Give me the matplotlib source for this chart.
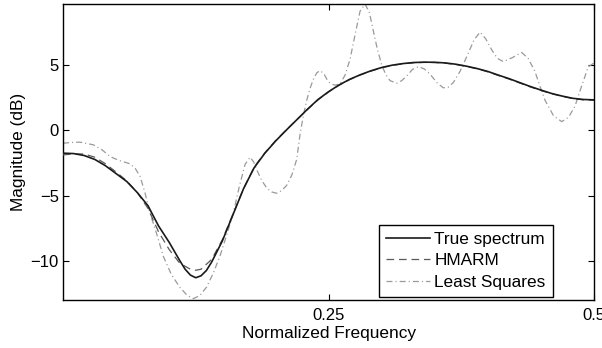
import matplotlib
matplotlib.use("Agg")
import matplotlib.pyplot as plt

plt.rcParams['font.family'] = ['Liberation Sans', 'DejaVu Sans']
plt.rcParams['lines.scale_dashes'] = False

# True spectrum
true_x = [0.000, 0.010, 0.020, 0.030, 0.040, 0.050, 0.060, 0.070, 0.080, 0.090,
          0.100, 0.110, 0.115, 0.120, 0.125, 0.130, 0.135, 0.140, 0.145, 0.150,
          0.160, 0.170, 0.180, 0.190, 0.200, 0.210, 0.220, 0.230, 0.240, 0.250,
          0.260, 0.270, 0.280, 0.290, 0.300, 0.310, 0.320, 0.330, 0.340, 0.350,
          0.360, 0.370, 0.380, 0.390, 0.400, 0.410, 0.420, 0.430, 0.440, 0.450,
          0.460, 0.470, 0.480, 0.490, 0.500]
true_y = [-1.74, -1.77, -1.92, -2.22, -2.70, -3.30, -3.90, -4.75, -5.75, -7.30,
          -8.55, -9.95, -10.60, -11.05, -11.25, -11.10, -10.70, -10.05, -9.25, -8.45,
          -6.45, -4.45, -2.85, -1.75, -0.83, 0.00, 0.80, 1.60, 2.35, 2.95,
          3.47, 3.90, 4.25, 4.55, 4.80, 4.98, 5.10, 5.18, 5.21, 5.20,
          5.15, 5.05, 4.90, 4.72, 4.50, 4.22, 3.95, 3.65, 3.35, 3.08,
          2.82, 2.62, 2.45, 2.36, 2.33]

# HMARM estimate
hmarm_x = [0.000, 0.010, 0.020, 0.030, 0.040, 0.050, 0.060, 0.070, 0.080, 0.090,
           0.100, 0.110, 0.120, 0.125, 0.130, 0.140, 0.150, 0.160, 0.170, 0.180,
           0.190, 0.200, 0.210, 0.220, 0.230, 0.240, 0.250, 0.260, 0.270, 0.280,
           0.290, 0.300, 0.310, 0.320, 0.330, 0.340, 0.350, 0.360, 0.370, 0.380,
           0.390, 0.400, 0.410, 0.420, 0.430, 0.440, 0.450, 0.460, 0.470, 0.480,
           0.490, 0.500]
hmarm_y = [-1.87, -1.80, -1.80, -2.05, -2.55, -3.18, -3.85, -4.75, -5.95, -7.75,
           -9.10, -10.15, -10.60, -10.68, -10.60, -9.85, -8.35, -6.40, -4.45, -2.80,
           -1.72, -0.80, 0.02, 0.80, 1.58, 2.32, 2.93, 3.45, 3.88, 4.23,
           4.53, 4.78, 4.96, 5.08, 5.16, 5.19, 5.18, 5.13, 5.03, 4.88,
           4.70, 4.47, 4.19, 3.92, 3.62, 3.32, 3.05, 2.80, 2.60, 2.43,
           2.33, 2.30]

# Least squares estimate
ls_x = [0.000, 0.008, 0.016, 0.0285, 0.037, 0.0443, 0.053, 0.0631, 0.068, 0.0725,
        0.077, 0.0819, 0.0882, 0.0944, 0.102, 0.1102, 0.117, 0.1227, 0.129, 0.1353,
        0.1415, 0.1478, 0.1541, 0.1604, 0.166, 0.1714, 0.1761, 0.1795, 0.1824, 0.187,
        0.1918, 0.1965, 0.2012, 0.2059, 0.2106, 0.2155, 0.2201, 0.2232, 0.2265, 0.2295,
        0.2326, 0.2357, 0.239, 0.242, 0.2455, 0.2485, 0.2514, 0.256, 0.2608, 0.2655,
        0.2702, 0.275, 0.2797, 0.2844, 0.2885, 0.2922, 0.296, 0.3001, 0.304, 0.3079,
        0.3142, 0.319, 0.3236, 0.329, 0.3346, 0.340, 0.3456, 0.352, 0.3581, 0.3628,
        0.3675, 0.3738, 0.3778, 0.3816, 0.387, 0.3927, 0.398, 0.4037, 0.409, 0.4146,
        0.423, 0.4319, 0.438, 0.4444, 0.449, 0.4539, 0.462, 0.4696, 0.476, 0.4821,
        0.488, 0.4946, 0.500]
ls_y = [-0.98, -0.92, -0.90, -1.10, -1.50, -2.00, -2.30, -2.55, -2.90, -3.50,
        -4.70, -6.30, -7.90, -9.60, -11.00, -12.00, -12.60, -12.85, -12.60, -11.95,
        -10.90, -9.60, -8.00, -6.30, -4.30, -2.60, -2.05, -2.40, -3.00, -3.80,
        -4.40, -4.70, -4.80, -4.60, -4.20, -3.40, -2.20, -0.30, 1.20, 2.30,
        3.20, 3.90, 4.40, 4.56, 4.35, 3.90, 3.60, 3.45, 3.55, 4.20,
        5.40, 7.30, 9.10, 9.65, 9.00, 7.60, 6.20, 5.00, 4.25, 3.80,
        3.60, 3.80, 4.15, 4.65, 4.87, 4.70, 4.30, 3.65, 3.25, 3.30,
        3.65, 4.50, 5.20, 5.90, 6.90, 7.50, 7.00, 6.15, 5.50, 5.25,
        5.55, 5.95, 5.50, 4.50, 3.40, 2.30, 1.10, 0.67, 1.00, 1.85,
        3.30, 4.85, 5.15]

x_ticks = [0.25, 0.5]
x_tick_labels = ['0.25', '0.5']
y_ticks = [-10, -5, 0, 5]
y_tick_labels = ['\u221210', '\u22125', '0', '5']

fig = plt.figure(figsize=(6.02, 3.48), dpi=100)
ax = fig.add_axes([63 / 602, 1 - 299.6 / 348, 531 / 602, 295.6 / 348])

ax.plot(true_x, true_y, color='#1a1a1a', lw=1.2, label='True spectrum', zorder=4)
ax.plot(hmarm_x, hmarm_y, color='#5a5a5a', lw=0.9, dashes=(5.5, 3.5), label='HMARM', zorder=3)
ax.plot(ls_x, ls_y, color='#9a9a9a', lw=0.9, dashes=(4.3, 2.2, 0.8, 2.2),
        label='Least Squares', zorder=2)

ax.set_xlim(0, 0.5)
ax.set_ylim(-12.92, 9.65)
ax.set_xticks(x_ticks)
ax.set_xticklabels(x_tick_labels)
ax.set_yticks(y_ticks)
ax.set_yticklabels(y_tick_labels)
ax.tick_params(direction='in', length=4, width=0.8, top=True, right=True,
               labelsize=12, colors='black')
ax.tick_params(axis='x', pad=6)
ax.tick_params(axis='y', pad=3)
for s in ax.spines.values():
    s.set_linewidth(1.0)
    s.set_color('black')

ax.set_xlabel('Normalized Frequency', fontsize=12.4, labelpad=2)
ax.set_ylabel('Magnitude (dB)', fontsize=12.4, labelpad=3)

leg = ax.legend(loc='lower right', bbox_to_anchor=(0.922, 0.0098), borderaxespad=0,
                fontsize=12.4, handlelength=2.55, handletextpad=0.25,
                borderpad=0.4, labelspacing=0.38, fancybox=False, framealpha=1,
                edgecolor='black')
leg.get_frame().set_linewidth(1.0)

fig.savefig('out.png', dpi=100)
